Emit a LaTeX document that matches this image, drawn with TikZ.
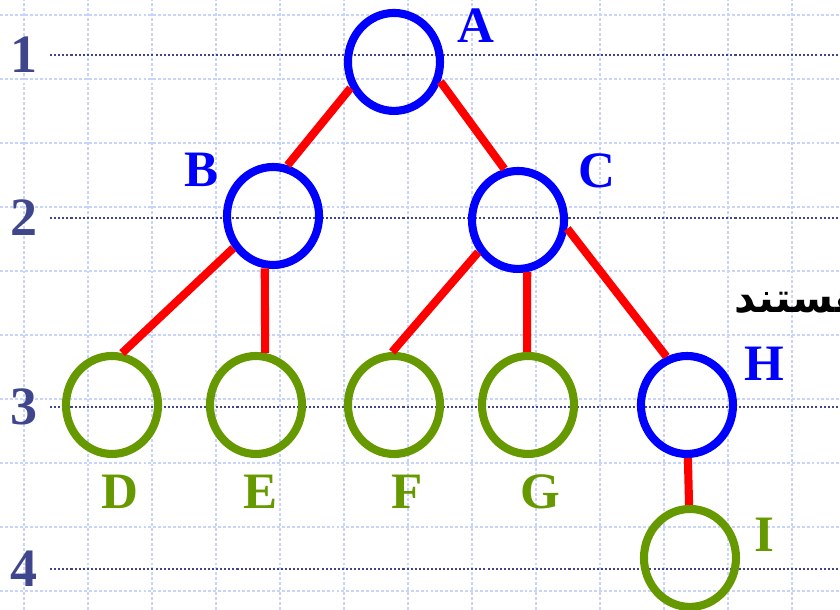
\documentclass[tikz,border=0pt]{standalone}
\usepackage{fontspec}
\setmainfont{Liberation Serif}
\newfontfamily\persianfont[Script=Arabic]{DejaVu Sans}
\TeXXeTstate=1
\usepackage{xcolor}
\usetikzlibrary{shapes.geometric,positioning}

\definecolor{gridblue}{RGB}{200,212,250}
\definecolor{levelblue}{RGB}{64,70,140}
\definecolor{nodeblue}{RGB}{0,0,255}
\definecolor{leafgreen}{RGB}{102,153,0}
\definecolor{edgered}{RGB}{255,0,0}

\tikzset{
  gridline/.style={draw=gridblue, line width=0.9pt, dash pattern=on 1.3pt off 0.9pt},
  levelline/.style={draw=levelblue, line width=0.9pt, dash pattern=on 0.9pt off 0.9pt},
  levelnum/.style={text=levelblue, font=\fontsize{24}{24}\selectfont\bfseries, inner sep=0pt},
  inner/.style={ellipse, draw=nodeblue, line width=3.6pt, minimum width=1.438cm, minimum height=1.531cm, inner sep=0pt},
  leaf/.style={inner, draw=leafgreen},
  innerlabel/.style={text=nodeblue, font=\fontsize{22.7}{22.7}\selectfont\bfseries, inner sep=0pt},
  leaflabel/.style={innerlabel, text=leafgreen},
  treeedge/.style={draw=edgered, line width=3.6pt}
}

\begin{document}
\begin{tikzpicture}
    \clip (-0.375,-0.297) rectangle (12.75,9.234);
    \draw[gridline] (-0.375,-0.297) grid (12.75,9.234);
    % levels
    \foreach \y/\n in {8.375/1,5.828/2,2.875/3,0.344/4}{
        \node[levelnum] (lvl\n) at (0,\y) {\n};
        \draw[levelline] (0.41,\y) -- (12.75,\y);
    }
    % tree
    \node[inner] (A) at (5.781,8.266) {};
    \node[inner] (B) at (3.891,5.859) {};
    \node[inner] (C) at (7.719,5.797) {};
    \node[inner] (H) at (10.359,2.906) {};
    \foreach \x/\name in {1.375/D,3.625/E,5.781/F,7.875/G}{\node[leaf] (\name) at (\x,2.906) {};}
    \node[leaf] (I) at (10.406,0.516) {};
    % labels
    \node[innerlabel] (labA) at (7.063,8.828) {A};
    \node[innerlabel] (labB) at (2.781,6.578) {B};
    \node[innerlabel] (labC) at (8.953,6.563) {C};
    \node[innerlabel] (labH) at (11.563,3.547) {H};
    \foreach \x/\name in {1.5/D,3.688/E,5.984/F,8.063/G}{\node[leaflabel] (lab\name) at (\x,1.547) {\name};}
    \node[leaflabel] (labI) at (11.563,0.875) {I};
    % edges
    \foreach \a/\b in {A.211/B.74,A.337/C.105,B.219/D.79,B.261/E.80,C.219.5/F.92,C.280/G.91,C.350/H.113,H.271/I.91}
        \draw[treeedge] (\a) -- (\b);
    \node[anchor=base west, inner sep=0pt, font=\fontsize{18.5}{18.5}\selectfont\bfseries] (note) at (11.1,4.344) {\persianfont\beginR هستند\endR};
\end{tikzpicture}
\end{document}
